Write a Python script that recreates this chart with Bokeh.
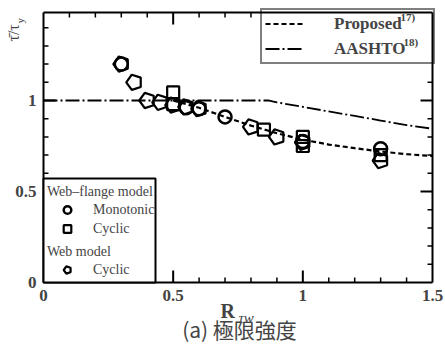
import math
from bokeh.plotting import figure
from bokeh.models import (LinearAxis, SingleIntervalTicker, NumeralTickFormatter,
                          Legend, LegendItem, Label, BoxAnnotation, Range1d)
from bokeh.embed import file_html
from bokeh.resources import INLINE

# ---- data ----
circle_r = [0.30, 0.55, 0.60, 0.70, 1.00, 1.30]
circle_t = [1.20, 0.96, 0.955, 0.91, 0.775, 0.735]
square_r = [0.50, 0.50, 0.85, 1.00, 1.00, 1.30]
square_t = [1.045, 0.98, 0.84, 0.80, 0.75, 0.70]
pent_r = [0.30, 0.35, 0.40, 0.45, 0.50, 0.55, 0.60, 0.80, 0.90, 1.00, 1.30]
pent_t = [1.20, 1.10, 1.00, 0.99, 0.975, 0.965, 0.955, 0.855, 0.80, 0.77, 0.67]

proposed_r = [0.50, 0.60, 0.70, 0.80, 0.90, 1.00, 1.10, 1.20, 1.30, 1.40, 1.50]
proposed_t = [1.00, 0.96, 0.91, 0.862, 0.82, 0.785, 0.758, 0.738, 0.72, 0.705, 0.695]
aashto_r = [0.0, 0.87, 0.90, 1.00, 1.10, 1.20, 1.30, 1.40, 1.50]
aashto_t = [1.0, 1.0, 0.99, 0.965, 0.94, 0.915, 0.89, 0.865, 0.845]

# tick positions (major 0.5, minor 0.1); top/right ones stop at the legend
bottom_major = [0.5, 1.0]
bottom_minor = [0.1, 0.2, 0.3, 0.4, 0.6, 0.7, 0.8, 0.9, 1.1, 1.2, 1.3, 1.4]
top_major = [0.5]
top_minor = [0.1, 0.2, 0.3, 0.4, 0.6, 0.7, 0.8]
left_major = [0.5, 1.0]
left_minor = [0.1, 0.2, 0.3, 0.4, 0.6, 0.7, 0.8, 0.9, 1.1, 1.2, 1.3, 1.4]
right_major = [0.5, 1.0]
right_minor = [0.1, 0.2, 0.3, 0.4, 0.6, 0.7, 0.8, 0.9, 1.1]

X_MIN, X_MAX = 0.0, 1.5
Y_MIN, Y_MAX = 0.0, 1.4835
XR = (-0.1658, 1.5501)
YR = (-0.3571, 1.5495)
W, H = 445, 347

SERIF = "Liberation Serif"

# the frame spans the whole canvas; axes are fixed at the edges of the data box
p = figure(width=W, height=H, output_backend="svg", toolbar_location=None,
           x_range=Range1d(*XR), y_range=Range1d(*YR),
           x_axis_location=None, y_axis_location=None, min_border=0)
p.grid.visible = False
p.outline_line_color = None
p.background_fill_alpha = 0
p.border_fill_alpha = 0

# data units per screen pixel
DX = (XR[1] - XR[0]) / W
DY = (YR[1] - YR[0]) / H


def make_axis(fixed, bounds):
    ax = LinearAxis(fixed_location=fixed)
    ax.bounds = bounds
    ax.ticker = SingleIntervalTicker(interval=0.5, num_minor_ticks=5)
    ax.axis_line_width = 2
    ax.major_tick_in = 0
    ax.minor_tick_in = 0
    ax.major_tick_out = 0
    ax.minor_tick_out = 0
    ax.formatter = NumeralTickFormatter(format="0.[0]")
    ax.major_label_text_font = SERIF
    ax.major_label_text_font_style = "bold"
    ax.major_label_text_font_size = "17px"
    ax.major_label_standoff = 7
    return ax


lab_left = make_axis(X_MIN, (Y_MIN, Y_MAX))
lab_left.major_label_orientation = "horizontal"
lab_bottom = make_axis(Y_MIN, (X_MIN, X_MAX))
p.add_layout(lab_left, "left")
p.add_layout(lab_bottom, "below")

# lines
r_prop = p.line(proposed_r, proposed_t, line_color="black", line_width=2.2, line_dash="5 3")
r_aash = p.line(aashto_r, aashto_t, line_color="black", line_width=1.8, line_dash="14 3 2 3")

# markers
r_circ = p.scatter(circle_r, circle_t, marker="circle", size=13, fill_alpha=0.0,
                   line_color="black", line_width=2.5)
r_sq = p.scatter(square_r, square_t, marker="square", size=12, fill_alpha=0.0,
                 line_color="black", line_width=2.2)
r_pent = p.ngon(x=pent_r, y=pent_t, radius=8, radius_units="screen", n=5,
                angle=math.pi / 2, fill_alpha=0.0, line_color="black", line_width=2.2)

# frame edges (top and right) and inward tick marks
p.segment(x0=[X_MIN, X_MAX], y0=[Y_MAX, Y_MIN], x1=[X_MAX, X_MAX], y1=[Y_MAX, Y_MAX],
          line_color="black", line_width=2)


def tick_marks(vals, side, length, width):
    n = len(vals)
    if side == "bottom":
        x0, y0, x1, y1 = vals, [Y_MIN] * n, vals, [Y_MIN + length * DY] * n
    elif side == "top":
        x0, y0, x1, y1 = vals, [Y_MAX] * n, vals, [Y_MAX - length * DY] * n
    elif side == "left":
        x0, y0, x1, y1 = [X_MIN] * n, vals, [X_MIN + length * DX] * n, vals
    else:
        x0, y0, x1, y1 = [X_MAX] * n, vals, [X_MAX - length * DX] * n, vals
    p.segment(x0=x0, y0=y0, x1=x1, y1=y1, line_color="black", line_width=width,
              line_cap="butt")


for side, major, minor in (("bottom", bottom_major, bottom_minor),
                           ("top", top_major, top_minor),
                           ("left", left_major, left_minor),
                           ("right", right_major, right_minor)):
    tick_marks(major, side, 12, 2)
    tick_marks(minor, side, 5, 1.5)

# top-right legend
leg1 = Legend(items=[LegendItem(label="Proposed", renderers=[r_prop]),
                     LegendItem(label="AASHTO", renderers=[r_aash])],
              location=(260, 283))
leg1.label_text_font = SERIF
leg1.label_text_font_style = "bold"
leg1.label_text_font_size = "17px"
leg1.padding = 3
leg1.glyph_width = 39
leg1.glyph_height = 21
leg1.label_height = 21
leg1.spacing = 4
leg1.label_standoff = 30
leg1.label_width = 96
leg1.border_line_color = "black"
leg1.border_line_width = 2
leg1.background_fill_alpha = 0
leg1.margin = 0
p.add_layout(leg1)

sup_font = dict(text_font=SERIF, text_font_style="bold", text_font_size="11px",
                x_units="screen", y_units="screen", text_baseline="middle")
p.add_layout(Label(x=400, y=331, text="17)", **sup_font))
p.add_layout(Label(x=403, y=306, text="18)", **sup_font))

# bottom-left legend box
box = BoxAnnotation(left=43, right=155, bottom=65, top=169,
                    left_units="screen", right_units="screen",
                    bottom_units="screen", top_units="screen",
                    fill_color="white", fill_alpha=1.0,
                    line_color="black", line_width=2, line_alpha=1.0)
p.add_layout(box)


def small_legend(title, items, loc):
    lg = Legend(items=items, location=loc, title=title)
    lg.title_text_font = SERIF
    lg.title_text_font_style = "normal"
    lg.title_text_font_size = "14px"
    lg.title_standoff = 0
    lg.label_text_font = SERIF
    lg.label_text_font_size = "14px"
    lg.padding = 3
    lg.glyph_width = 40
    lg.glyph_height = 19
    lg.label_height = 19
    lg.spacing = 0
    lg.label_standoff = 6
    lg.border_line_alpha = 0
    lg.background_fill_alpha = 0
    lg.margin = 0
    return lg


legA = small_legend("Web–flange model",
                    [LegendItem(label="Monotonic", renderers=[r_circ]),
                     LegendItem(label="Cyclic", renderers=[r_sq])], (44, 106))
legB = small_legend("Web model",
                    [LegendItem(label="Cyclic", renderers=[r_pent])], (44, 65))
p.add_layout(legA)
p.add_layout(legB)

# axis titles and caption
p.add_layout(Label(x=13, y=306, text="τ̄/τ", angle=math.pi / 2, x_units="screen",
                   y_units="screen", text_font=SERIF, text_font_size="16px",
                   text_align="left", text_baseline="middle"))
p.add_layout(Label(x=19, y=324, text="y", angle=math.pi / 2, x_units="screen",
                   y_units="screen", text_font=SERIF, text_font_size="11px",
                   text_align="left", text_baseline="middle"))
p.add_layout(Label(x=220, y=37, text="R", x_units="screen", y_units="screen",
                   text_font=SERIF, text_font_style="bold", text_font_size="20px",
                   text_align="left", text_baseline="middle"))
p.add_layout(Label(x=238, y=30, text="τw", x_units="screen", y_units="screen",
                   text_font=SERIF, text_font_style="italic", text_font_size="15px",
                   text_align="left", text_baseline="middle"))
p.add_layout(Label(x=239, y=19, text="(a) 極限強度", x_units="screen", y_units="screen",
                   text_font="Noto Sans CJK JP", text_font_size="21px",
                   text_align="center", text_baseline="middle"))

open("out.html", "w").write(file_html(p, INLINE))
